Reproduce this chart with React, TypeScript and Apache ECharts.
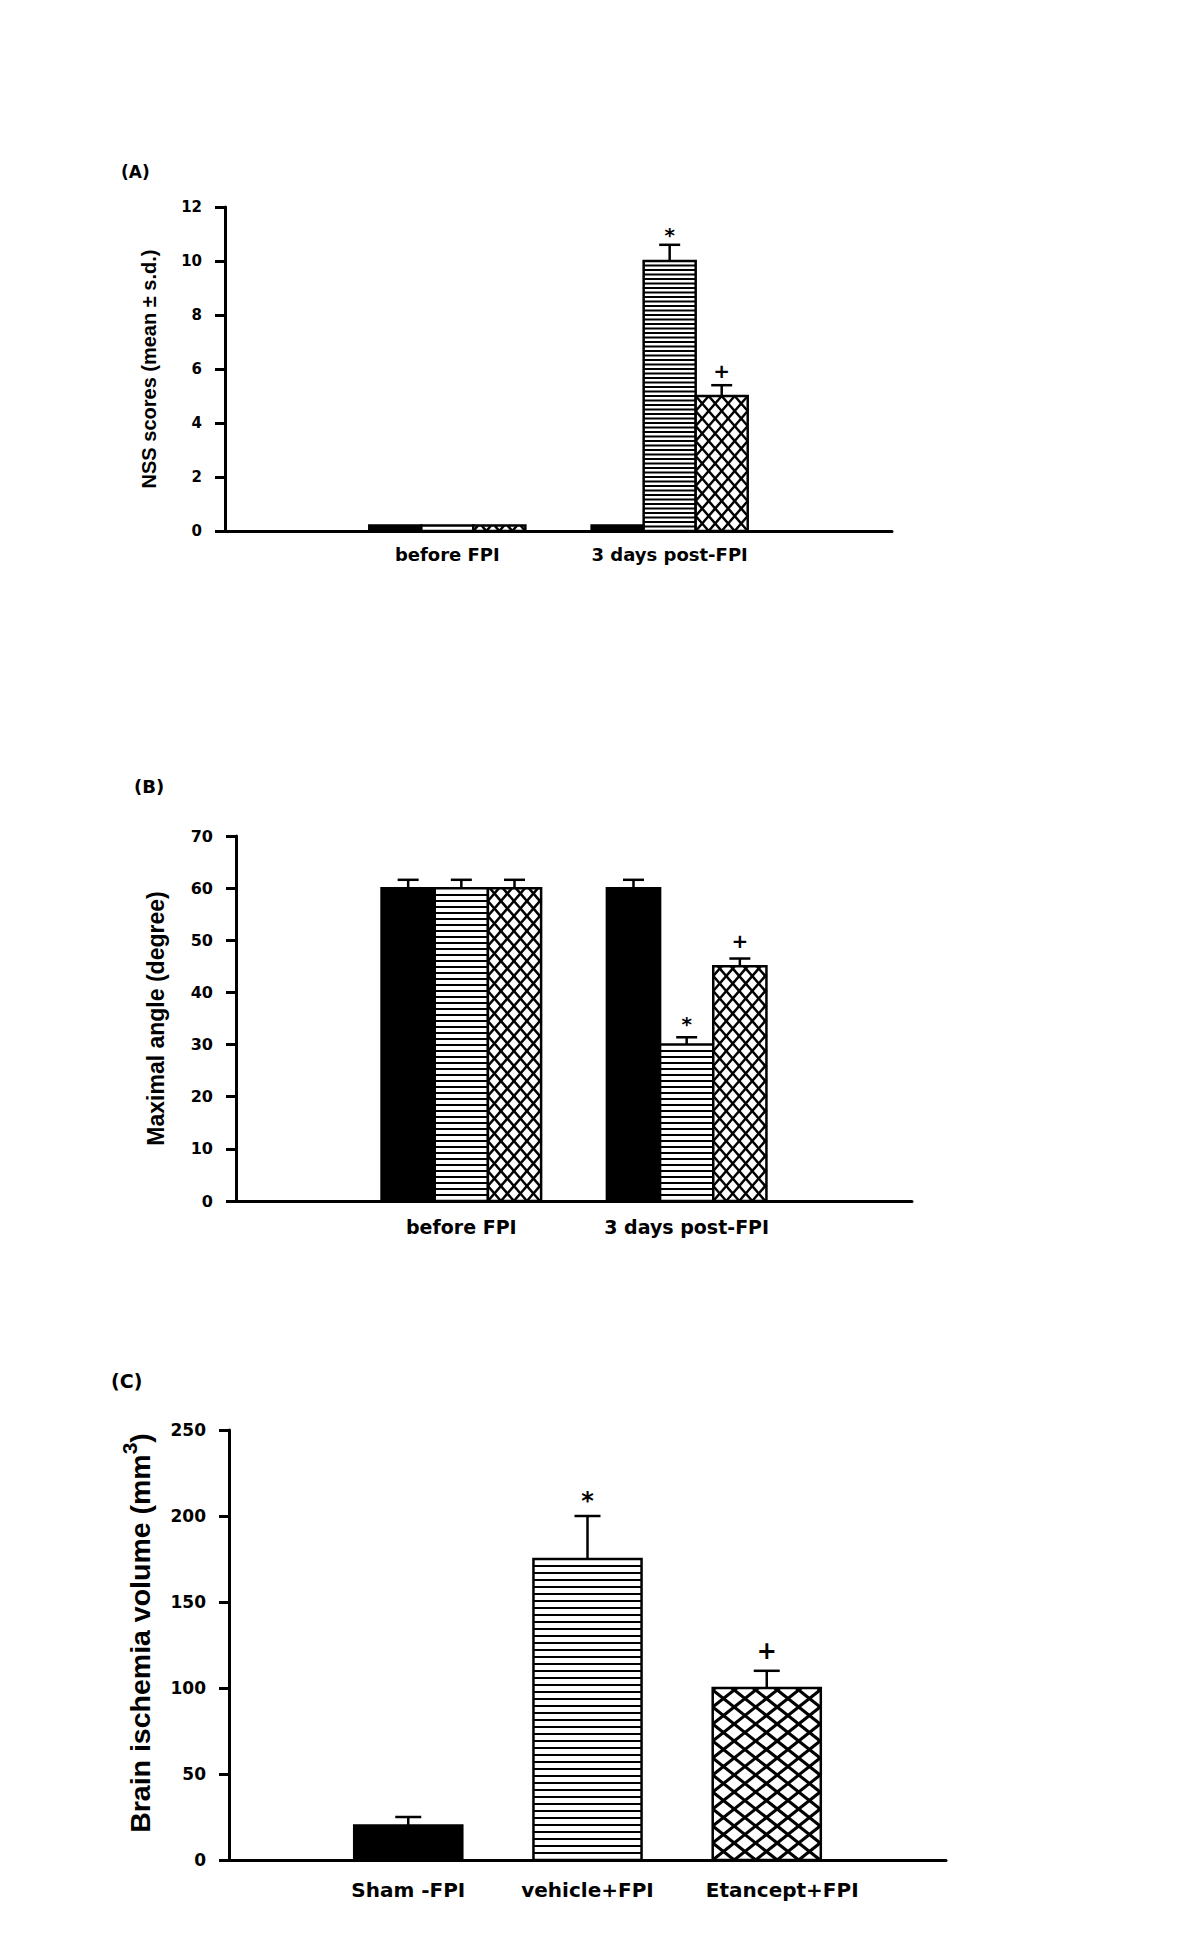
import React, { useEffect, useRef } from 'react';
import * as echarts from 'echarts';

// ---------- Panel A : NSS scores ----------
const timeCats = ['before FPI', '3 days post-FPI'];
const nssSham = [0.2, 0.2];
const nssVehicle = [0.2, 10];
const nssEtancept = [0.2, 5];
const nssShamSd = [0, 0];
const nssVehicleSd = [0, 0.6];
const nssEtanceptSd = [0, 0.4];
const nssShamMarks = ['', ''];
const nssVehicleMarks = ['', '*'];
const nssEtanceptMarks = ['', '+'];

// ---------- Panel B : Maximal angle ----------
const angleSham = [60, 60];
const angleVehicle = [60, 30];
const angleEtancept = [60, 45];
const angleShamSd = [1.6, 1.6];
const angleVehicleSd = [1.6, 1.4];
const angleEtanceptSd = [1.6, 1.5];
const angleShamMarks = ['', ''];
const angleVehicleMarks = ['', '*'];
const angleEtanceptMarks = ['', '+'];

// ---------- Panel C : Brain ischemia volume ----------
const volCats = ['Sham -FPI', 'vehicle+FPI', 'Etancept+FPI'];
const volMeans = [20, 175, 100];
const volSd = [5, 25, 10];
const volMarks = ['', '*', '+'];

const TXT = 'DejaVu Sans';
const ARIAL = 'Liberation Sans';

type Pat = 'solid' | 'hlines' | 'cross';
interface Look {
  frac: number;
  slot: number;
  pitch: number;
  hlw: number;
  dw: number;
  dh: number;
  clw: number;
  cap: number;
  markFont: number;
  markGap: number;
}

function makeRender(pat: Pat, look: Look, marks: string[]) {
  return function (params: any, api: any) {
    const xv = api.value(0);
    const v = api.value(1);
    const sd = api.value(2);
    const p0 = api.coord([xv, 0]);
    const p1 = api.coord([xv, v]);
    const band = api.size([1, 0])[0];
    const w = band * look.frac;
    const cx = p0[0] + look.slot * w;
    const x0 = cx - w / 2;
    const x1 = cx + w / 2;
    const yb = p0[1];
    const yt = p1[1];
    const h = yb - yt;
    const kids: any[] = [];
    kids.push({
      type: 'rect',
      shape: { x: x0, y: yt, width: w, height: h },
      style: { fill: pat === 'solid' ? '#000' : '#fff' },
    });
    if (pat === 'hlines') {
      const ls = { stroke: '#000', lineWidth: look.hlw };
      for (let y = yb - look.pitch; y > yt + 1; y -= look.pitch) {
        kids.push({ type: 'line', shape: { x1: x0, y1: y, x2: x1, y2: y }, style: ls });
      }
    } else if (pat === 'cross') {
      const ls = { stroke: '#000', lineWidth: look.clw };
      const U = w / look.dw;
      const V = h / look.dh;
      const px = (u: number, vv: number) => [x0 + u * look.dw, yb - vv * look.dh];
      for (let n = 1; n < U + V; n++) {
        const ua = Math.max(0, n - V);
        const ub = Math.min(U, n);
        if (ub > ua) {
          const a = px(ua, n - ua);
          const b = px(ub, n - ub);
          kids.push({ type: 'line', shape: { x1: a[0], y1: a[1], x2: b[0], y2: b[1] }, style: ls });
        }
      }
      for (let n = -Math.ceil(V); n < U; n++) {
        const ua = Math.max(0, n);
        const ub = Math.min(U, n + V);
        if (ub > ua) {
          const a = px(ua, ua - n);
          const b = px(ub, ub - n);
          kids.push({ type: 'line', shape: { x1: a[0], y1: a[1], x2: b[0], y2: b[1] }, style: ls });
        }
      }
    }
    kids.push({
      type: 'rect',
      shape: { x: x0, y: yt, width: w, height: h },
      style: { fill: 'none', stroke: '#000', lineWidth: 2.5 },
    });
    let topY = yt;
    if (sd > 0) {
      const pe = api.coord([xv, v + sd]);
      topY = pe[1];
      const es = { stroke: '#000', lineWidth: 2.5 };
      kids.push({ type: 'line', shape: { x1: cx, y1: yt, x2: cx, y2: pe[1] }, style: es });
      kids.push({
        type: 'line',
        shape: { x1: cx - look.cap / 2, y1: pe[1], x2: cx + look.cap / 2, y2: pe[1] },
        style: es,
      });
    }
    const mark = marks[params.dataIndex];
    if (mark) {
      const adj = mark === '*' ? look.markFont * 0.22 : 0;
      kids.push({
        type: 'text',
        x: cx,
        y: topY - look.markGap + adj,
        style: {
          text: mark,
          fill: '#000',
          fontSize: look.markFont,
          fontWeight: 'bold',
          fontFamily: TXT,
          align: 'center',
          verticalAlign: 'middle',
        },
      });
    }
    return { type: 'group', children: kids };
  };
}

function groupSeries(
  gridIdx: number,
  pat: Pat,
  look: Look,
  means: number[],
  sds: number[],
  marks: string[]
) {
  return {
    type: 'custom',
    xAxisIndex: gridIdx,
    yAxisIndex: gridIdx,
    encode: { x: 0, y: 1 },
    renderItem: makeRender(pat, look, marks),
    data: means.map((m, i) => [i + 1, m, sds[i]]),
    silent: true,
  };
}

function xAxisFor(gridIdx: number, cats: string[], fontSize: number, margin: number, extra?: any) {
  return {
    type: 'category',
    gridIndex: gridIdx,
    data: ['', ...cats, ''],
    boundaryGap: false,
    axisLine: { show: true, lineStyle: { color: '#000', width: 3 } },
    axisTick: { show: false },
    splitLine: { show: false },
    axisLabel: {
      interval: 0,
      color: '#000',
      fontFamily: TXT,
      fontWeight: 'bold',
      fontSize,
      margin,
      ...(extra || {}),
    },
  };
}

function yAxisFor(
  gridIdx: number,
  max: number,
  interval: number,
  labelSize: number,
  name: string,
  nameGap: number,
  nameStyle: any
) {
  return {
    type: 'value',
    gridIndex: gridIdx,
    min: 0,
    max,
    interval,
    axisLine: { show: true, lineStyle: { color: '#000', width: 3 } },
    axisTick: { show: true, length: 10, lineStyle: { color: '#000', width: 3 } },
    splitLine: { show: false },
    axisLabel: {
      color: '#000',
      fontFamily: TXT,
      fontWeight: 'bold',
      fontSize: labelSize,
      margin: 23,
    },
    name,
    nameLocation: 'middle',
    nameRotate: 90,
    nameGap,
    nameTextStyle: nameStyle,
  };
}

export default function App() {
  const ref = useRef<HTMLDivElement>(null);
  useEffect(() => {
    document.body.style.margin = '0';
    if (!ref.current) return;
    const chart = echarts.init(ref.current, null, { renderer: 'svg' });

    const lookA = (slot: number): Look => ({
      frac: 0.234, slot, pitch: 4.5, hlw: 1.8, dw: 13, dh: 15, clw: 2.5, cap: 21, markFont: 20, markGap: 14,
    });
    const lookB = (slot: number): Look => ({
      frac: 0.236, slot, pitch: 6, hlw: 1.8, dw: 13, dh: 15, clw: 2.5, cap: 21, markFont: 20, markGap: 18,
    });
    const lookC: Look = {
      frac: 0.603, slot: 0, pitch: 7, hlw: 2, dw: 21.5, dh: 17, clw: 3, cap: 26, markFont: 24, markGap: 20,
    };

    const panelTitle = (text: string, left: number, top: number, size: number) => ({
      text,
      left,
      top,
      padding: 0,
      textStyle: { fontFamily: TXT, fontWeight: 'bold', fontSize: size, color: '#000' },
    });

    const labelStyle = { fontFamily: TXT, fontWeight: 'bold', fontSize: 20, color: '#000' };

    const option: any = {
      animation: false,
      backgroundColor: '#fff',
      title: [
        panelTitle('(A)', 121, 163, 17),
        panelTitle('(B)', 134, 777, 18),
        panelTitle('(C)', 111, 1371, 19),
      ],
      grid: [
        { left: 225, right: 308, top: 207, bottom: 1424, outerBoundsMode: 'none' },
        { left: 236, right: 288, top: 836, bottom: 754, outerBoundsMode: 'none' },
        { left: 229, right: 254, top: 1430, bottom: 95, outerBoundsMode: 'none' },
      ],
      xAxis: [
        xAxisFor(0, timeCats, 18, 14),
        xAxisFor(1, timeCats, 19, 16),
        xAxisFor(2, volCats, 20, 20, {
          formatter: (v: string) => (v === 'Etancept+FPI' ? '{e|' + v + '}' : v),
          rich: { e: { ...labelStyle, padding: [0, 0, 0, 31] } },
        }),
      ],
      yAxis: [
        yAxisFor(0, 12, 2, 15, 'NSS scores (mean \u00b1 s.d.)', 66, {
          fontFamily: ARIAL, fontWeight: 'bold', fontSize: 20, color: '#000',
        }),
        yAxisFor(1, 70, 10, 16, 'Maximal angle (degree)', 69, {
          fontFamily: ARIAL, fontWeight: 'bold', fontSize: 23, color: '#000',
        }),
        yAxisFor(2, 250, 50, 17, '{a|Brain ischemia volume (mm}{s|3}{a|)}', 75, {
          color: '#000',
          padding: [0, 0, 0, 24],
          rich: {
            a: {
              fontFamily: ARIAL, fontWeight: 'bold', fontSize: 28.5, color: '#000',
              lineHeight: 35, verticalAlign: 'bottom',
            },
            s: {
              fontFamily: ARIAL, fontWeight: 'bold', fontSize: 21, color: '#000',
              lineHeight: 21, verticalAlign: 'top',
            },
          },
        }),
      ],
      series: [
        groupSeries(0, 'solid', lookA(-1), nssSham, nssShamSd, nssShamMarks),
        groupSeries(0, 'hlines', lookA(0), nssVehicle, nssVehicleSd, nssVehicleMarks),
        groupSeries(0, 'cross', lookA(1), nssEtancept, nssEtanceptSd, nssEtanceptMarks),
        groupSeries(1, 'solid', lookB(-1), angleSham, angleShamSd, angleShamMarks),
        groupSeries(1, 'hlines', lookB(0), angleVehicle, angleVehicleSd, angleVehicleMarks),
        groupSeries(1, 'cross', lookB(1), angleEtancept, angleEtanceptSd, angleEtanceptMarks),
        {
          type: 'custom',
          xAxisIndex: 2,
          yAxisIndex: 2,
          encode: { x: 0, y: 1 },
          silent: true,
          renderItem: (params: any, api: any) => {
            const pats: Pat[] = ['solid', 'hlines', 'cross'];
            return makeRender(pats[params.dataIndex], lookC, volMarks)(params, api);
          },
          data: volMeans.map((m, i) => [i + 1, m, volSd[i]]),
        },
      ],
    };
    chart.setOption(option);
    return () => chart.dispose();
  }, []);
  return <div ref={ref} style={{ width: 1200, height: 1955 }} />;
}
